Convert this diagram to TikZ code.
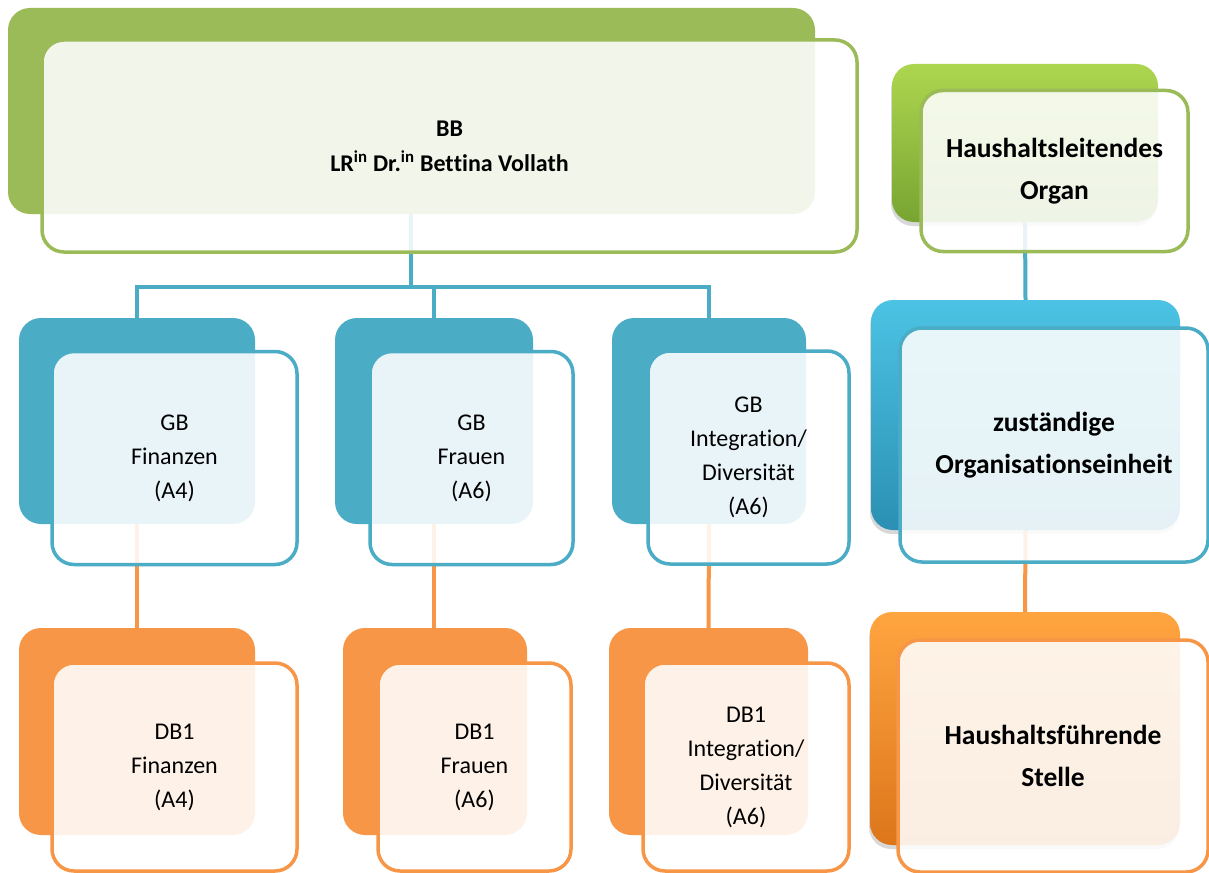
\documentclass[tikz,border=0pt]{standalone}
\usepackage{fontspec}
\setmainfont{Carlito}[Ligatures={NoCommon,NoRequired,NoContextual}, Contextuals=NoAlternate]
\usetikzlibrary{shadows,backgrounds}
\newcommand{\mynolig}{\kern0pt{}}
\definecolor{ogreen}{HTML}{9BBB59}
\definecolor{oblue}{HTML}{4BACC6}
\definecolor{oorange}{HTML}{F79646}
\definecolor{gtop}{HTML}{ADD64F}
\definecolor{gmid}{HTML}{8DBD3D}
\definecolor{gbot}{HTML}{78A532}
\definecolor{btop}{HTML}{4CC3E4}
\definecolor{bmid}{HTML}{38AED2}
\definecolor{bbot}{HTML}{2B90B3}
\definecolor{otop}{HTML}{FFA540}
\definecolor{omid}{HTML}{F7912A}
\definecolor{obot}{HTML}{DD761B}
\tikzset{
  backbox/.style={rounded corners=22pt, inner sep=0pt, outer sep=0pt, fill=#1},
  shadedbox/.style n args={3}{rounded corners=22pt, inner sep=0pt, outer sep=0pt,
     top color=#1, middle color=#2, bottom color=#3,
     drop shadow={shadow xshift=-1pt, shadow yshift=-4pt, opacity=0.3}},
  frontbox/.style={rounded corners=22pt, draw=#1, line width=3.5pt, fill=white,
     fill opacity=0.88, text opacity=1, inner sep=0pt, outer sep=0pt,
     align=center, text=black},
  regtext/.style={font=\fontsize{24}{34}\selectfont},
  bbtext/.style={font=\bfseries\fontsize{24}{35}\selectfont},
  boldtext/.style={font=\bfseries\fontsize{27.5}{42}\selectfont},
  blueline/.style={draw=oblue, line width=4pt},
  orangeline/.style={draw=oorange, line width=4pt},
}
\begin{document}
\begin{tikzpicture}[x=1pt, y=-1pt]
\useasboundingbox (0,0) rectangle (1209,872);
% top box
\node[backbox=ogreen, minimum width=807, minimum height=206] (bbb) at (411.5,111) {};
\node[frontbox=ogreen, bbtext, minimum width=815, minimum height=212] (bbf) at (449.5,146)
  {BB\\LR\textsuperscript{in} Dr.\textsuperscript{in} Bet\mynolig t\mynolig ina Vollath};
% GB boxes
\node[backbox=oblue, minimum width=236, minimum height=206] (g1b) at (137,421) {};
\node[frontbox=oblue, regtext, minimum width=245, minimum height=213] (g1f) at (174.5,458) {GB\\Finanzen\\(A4)};
\node[backbox=oblue, minimum width=198, minimum height=206] (g2b) at (434,421) {};
\node[frontbox=oblue, regtext, minimum width=203, minimum height=213] (g2f) at (471.5,458) {GB\\Frauen\\(A6)};
\node[backbox=oblue, minimum width=194, minimum height=206] (g3b) at (709,421) {};
\node[frontbox=oblue, regtext, minimum width=201, minimum height=213] (g3f) at (748.5,457.5) {GB\\Integrat\mynolig ion/\\Diversität\\(A6)};
% DB boxes
\node[backbox=oorange, minimum width=236, minimum height=207] (d1b) at (137,731.5) {};
\node[frontbox=oorange, regtext, minimum width=245, minimum height=208] (d1f) at (174.5,767) {DB1\\Finanzen\\(A4)};
\node[backbox=oorange, minimum width=184, minimum height=207] (d2b) at (435,731.5) {};
\node[frontbox=oorange, regtext, minimum width=193, minimum height=208] (d2f) at (474.5,767) {DB1\\Frauen\\(A6)};
\node[backbox=oorange, minimum width=199, minimum height=207] (d3b) at (708.5,731.5) {};
\node[frontbox=oorange, regtext, minimum width=206, minimum height=208] (d3f) at (746,767) {DB1\\Integrat\mynolig ion/\\Diversität\\(A6)};
% legend column
\node[shadedbox={gtop}{gmid}{gbot}, minimum width=266, minimum height=158] (hb) at (1025,143) {};
\node[frontbox=ogreen, boldtext, minimum width=267, minimum height=161] (hf) at (1054.5,171) {Haushaltsleitendes\\Organ};
\node[shadedbox={btop}{bmid}{bbot}, minimum width=309, minimum height=230] (zb) at (1025.5,415) {};
\node[frontbox=oblue, boldtext, minimum width=308, minimum height=234] (zf) at (1054,445) {zuständige\\Organisat\mynolig ionseinheit};
\node[shadedbox={otop}{omid}{obot}, minimum width=310, minimum height=233] (fb) at (1025,728.5) {};
\node[frontbox=oorange, boldtext, minimum width=310, minimum height=232] (ff) at (1053,756) {Haushaltsführende\\Stelle};
% connectors below the boxes
\begin{scope}[on background layer]
  \fill[white] (0,0) rectangle (1209,872);
  \coordinate (j0) at (411,287);
  \draw[blueline] (j0 |- bbb.south) -- (j0);
  \draw[blueline] (g1b.north) -- (g1b.north |- j0) -- (g3b.north |- j0) -- (g3b.north);
  \draw[blueline] (g2b.north) -- (g2b.north |- j0);
  \draw[orangeline] (g1b.south) -- (d1b.north);
  \draw[orangeline] (g2b.south) -- (g2b.south |- d2b.north);
  \draw[orangeline] (g3b.south) -- (d3b.north);
  \draw[blueline] (hb.south) -- (zb.north);
  \draw[orangeline] (zb.south) -- (fb.north);
\end{scope}
\end{tikzpicture}
\end{document}
